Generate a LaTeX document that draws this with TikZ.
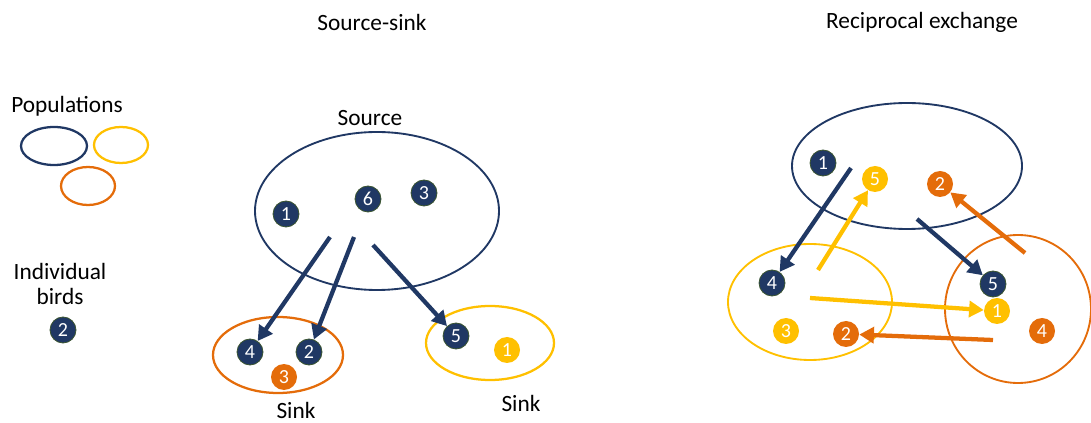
\documentclass[tikz,border=0pt]{standalone}
\usepackage{fontspec}
\setmainfont{Carlito}
\usetikzlibrary{arrows.meta}

\definecolor{navy}{HTML}{203864}
\definecolor{gold}{HTML}{FFC000}
\definecolor{rust}{HTML}{E46C0A}
\definecolor{rim}{HTML}{3B5530}

\tikzset{
  bird/.style={circle, fill=#1, text=white, minimum size=19.5pt, inner sep=0pt,
    font=\fontsize{15}{15}\selectfont},
  pop/.style={draw=#1, line width=1.7pt},
  move/.style={draw=#1, line width=3.2pt, -{Triangle[length=11pt,width=12pt]}},
  lbl/.style={font=\fontsize{17.5}{20}\selectfont, align=center, inner sep=1pt}
}

\begin{document}
\begin{tikzpicture}[x=0.75pt, y=-0.75pt]

        \useasboundingbox (0,0) rectangle (1091,423);

        % headings and key
        \node[lbl] (t1) at (372,22) {Source-sink};
        \node[lbl] (t2) at (922,22) {Reciprocal exchange};
        \node[lbl] (pops) at (67,106) {Populations};
        \node[lbl] (ind) at (60,284) {Individual\\[-1pt]birds};
        \node[lbl] (src) at (370,118) {Source};
        \node[lbl] (snk1) at (296,410) {Sink};
        \node[lbl] (snk2) at (521,403) {Sink};

        % populations
        \draw[pop=navy] (54,146) ellipse [x radius=33, y radius=19];
        \draw[pop=gold] (121,145) ellipse [x radius=27, y radius=18];
        \draw[pop=rust] (88,186) ellipse [x radius=27, y radius=19];

        \draw[pop=navy, line width=1.4pt] (377,211) ellipse [x radius=122, y radius=79];
        \draw[pop=rust] (278,355) ellipse [x radius=65, y radius=38];
        \draw[pop=gold] (490,343) ellipse [x radius=64, y radius=37];

        \draw[pop=navy, line width=1.4pt] (907,166) ellipse [x radius=115, y radius=63];
        \draw[pop=gold, line width=1.4pt] (810,302) ellipse [x radius=82, y radius=58];
        \draw[pop=rust, line width=1.4pt] (1018,309) ellipse [x radius=73, y radius=74];

        % birds
        \begin{scope}[every node/.style={bird=navy, draw=rim, line width=0.6pt}]
          \node (k2) at (63,330)  {2};
          \node (a1) at (286,214) {1};
          \node (a6) at (368,199) {6};
          \node (a3) at (424,193) {3};
          \node (b4) at (250,352) {4};
          \node (b2) at (309,352) {2};
          \node (c5) at (456,336) {5};
          \node (p1) at (823,163) {1};
          \node (q4) at (772,283) {4};
          \node (r5) at (993,284) {5};
        \end{scope}

        \node[bird=rust] (b3) at (284,377) {3};
        \node[bird=gold] (c1) at (507,350) {1};
        \node[bird=gold] (p5) at (875,179) {5};
        \node[bird=rust] (p2) at (940,184) {2};
        \node[bird=gold] (r1) at (997,311) {1};
        \node[bird=gold] (q3) at (786,331) {3};
        \node[bird=rust] (q2) at (846,334) {2};
        \node[bird=rust] (r4) at (1042,331) {4};

        % where the moves start
        \coordinate (m1) at (330,237);
        \coordinate (m2) at (354,237);
        \coordinate (m3) at (373,245);
        \coordinate (n1) at (851,168);
        \coordinate (n2) at (818,270);
        \coordinate (n3) at (1025,253);
        \coordinate (n4) at (917,219);
        \coordinate (n5) at (810,298);
        \coordinate (n6) at (993,340);

        % moves
        \draw[move=navy] (m1) -- (b4);
        \draw[move=navy] (m2) -- (b2);
        \draw[move=navy] (m3) -- (c5);
        \draw[move=navy] (n1) -- (q4);
        \draw[move=gold] (n2) -- (p5);
        \draw[move=rust] (n3) -- (p2);
        \draw[move=navy] (n4) -- (r5);
        \draw[move=gold] (n5) -- (r1);
        \draw[move=rust] (n6) -- (q2);

      \end{tikzpicture}
\end{document}
